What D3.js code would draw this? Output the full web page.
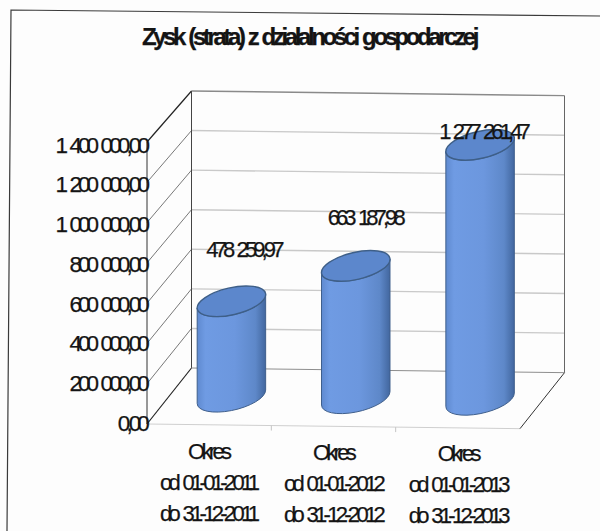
<!DOCTYPE html>
<html lang="pl">
<head>
<meta charset="utf-8">
<script src="https://cdn.jsdelivr.net/npm/d3@7"></script>
<style>
html, body { margin: 0; padding: 0; background: #fdfdfd; }
svg { display: block; }
text { font-family: "Liberation Sans", Arial, sans-serif; fill: #141414; stroke: #141414; stroke-width: 0.25px; }
</style>
</head>
<body>
<svg id="chart" width="600" height="531"></svg>
<script>
const chartTitle = "Zysk (strata) z działalności gospodarczej";
const periods = ["2011", "2012", "2013"];
const periodLines = [
  ["Okres", "od 01-01-2011", "do 31-12-2011"],
  ["Okres", "od 01-01-2012", "do 31-12-2012"],
  ["Okres", "od 01-01-2013", "do 31-12-2013"]
];
const profits = [478259.97, 663187.98, 1277261.47];
const axisTicks = [0, 200000, 400000, 600000, 800000, 1000000, 1200000, 1400000];

const svg = d3.select("#chart");
const plLocale = d3.formatLocale({ decimal: ",", thousands: " ", grouping: [3], currency: ["", " zł"] });
const fmt = plLocale.format(",.2f");

// Pseudo-3D box: the front plane, and the offset of the back wall from it.
const frontLeft = 147, frontRight = 520, frontBase = 424, frontTop = 142;
const depthX = 44.5, depthY = 56, backShrink = 5;
const tilt = 0.0125;

const xBand = d3.scaleBand().domain(periods).range([frontLeft, frontRight]);
const yFront = d3.scaleLinear().domain([0, 1400000]).range([frontBase, frontTop]);
const yBack = d3.scaleLinear().domain([0, 1400000]).range([frontBase - depthY, frontTop - depthY + backShrink]);

// Projects (plot x, value, depth 0..1) on to the page.
function project(x, v, d) {
  const px = x + depthX * d;
  const py = yFront(v) + (yBack(v) - yFront(v)) * d + (x - frontLeft) * tilt;
  return [px, py];
}
const segment = (a, b) => "M" + a.join(",") + "L" + b.join(",");

// Page frame
svg.append("path")
  .attr("d", "M7,531L11,10L600,16")
  .attr("fill", "none").attr("stroke", "#3a3a3a").attr("stroke-width", 1.2);

// Back wall gridlines
svg.append("g").selectAll("path").data(axisTicks.slice(1)).join("path")
  .attr("d", v => segment(project(frontLeft, v, 1), project(frontRight, v, 1)))
  .attr("fill", "none")
  .attr("stroke", v => v === 1400000 ? "#8a8a8a" : "#c9c9c9")
  .attr("stroke-width", 1.4);

// Side wall gridlines
svg.append("g").selectAll("path").data(axisTicks).join("path")
  .attr("d", v => segment(project(frontLeft, v, 0), project(frontLeft, v, 1)))
  .attr("fill", "none")
  .attr("stroke", v => (v === 0 || v === 1400000) ? "#222" : "#555")
  .attr("stroke-width", v => (v === 0 || v === 1400000) ? 1.2 : 0.8);

// Box edges: walls, floor
const edges = [
  [project(frontLeft, 0, 0), project(frontLeft, 1400000, 0), "#333"],
  [project(frontLeft, 0, 1), project(frontLeft, 1400000, 1), "#444"],
  [project(frontRight, 0, 1), project(frontRight, 1400000, 1), "#666"],
  [project(frontLeft, 0, 1), project(frontRight, 0, 1), "#8e8e8e"],
  [project(frontLeft, 0, 0), project(frontRight, 0, 0), "#cfcfcf"],
  [project(frontRight, 0, 0), project(frontRight, 0, 1), "#333"]
];
svg.append("g").selectAll("path").data(edges).join("path")
  .attr("d", d => segment(d[0], d[1]))
  .attr("fill", "none").attr("stroke", d => d[2]).attr("stroke-width", 1);

// Floor ticks between the categories
svg.append("g").selectAll("path").data(periods.slice(1)).join("path")
  .attr("d", p => {
    const a = project(xBand(p), 0, 0);
    return segment(a, [a[0], a[1] + 5]);
  })
  .attr("stroke", "#c4c4c4").attr("stroke-width", 1);

// Cylinders
const defs = svg.append("defs");
const grad = defs.append("linearGradient").attr("id", "body");
[[0, "#5f8ad0"], [0.12, "#6f9be3"], [0.55, "#6c97de"], [0.85, "#5e88c9"], [1, "#42679f"]]
  .forEach(s => grad.append("stop").attr("offset", s[0]).attr("stop-color", s[1]));

const rx = 35, ry = 13.5, rot = -13 * Math.PI / 180;
// Tangent points of the tilted ellipse with vertical lines
const halfW = Math.sqrt(rx * rx * Math.cos(rot) ** 2 + ry * ry * Math.sin(rot) ** 2);
const tanDy = ((rx * rx - ry * ry) * Math.sin(rot) * Math.cos(rot)) / halfW;

const bars = svg.append("g").selectAll("g")
  .data(periods.map((p, i) => ({ period: p, value: profits[i] })))
  .join("g");

const barBase = d => project(xBand(d.period) + xBand.bandwidth() / 2, 0, 0.5);
const barTop = d => project(xBand(d.period) + xBand.bandwidth() / 2, d.value, 0.5);
const rotDeg = rot * 180 / Math.PI;

bars.append("path")
  .attr("d", d => {
    const [bx, by] = barBase(d), [tx, ty] = barTop(d);
    return `M${tx - halfW},${ty - tanDy}L${bx - halfW},${by - tanDy}` +
      `A${rx},${ry} ${rotDeg} 0 0 ${bx + halfW},${by + tanDy}` +
      `L${tx + halfW},${ty + tanDy}` +
      `A${rx},${ry} ${rotDeg} 0 1 ${tx - halfW},${ty - tanDy}Z`;
  })
  .attr("fill", "url(#body)")
  .attr("stroke", "#3f5f8c").attr("stroke-width", 1);

bars.append("ellipse")
  .attr("rx", rx).attr("ry", ry)
  .attr("transform", d => {
    const [tx, ty] = barTop(d);
    return `translate(${tx},${ty}) rotate(${rotDeg})`;
  })
  .attr("fill", "#5c87cc")
  .attr("stroke", "#3e5f88").attr("stroke-width", 1.4);

// Vertical axis labels
const axis = d3.axisLeft(yFront.copy().range([frontBase - 1, frontTop + 3]))
  .tickValues(axisTicks).tickSize(0).tickPadding(0).tickFormat(fmt);
const axisG = svg.append("g").attr("transform", `translate(${frontLeft - 1},0)`).call(axis);
axisG.select(".domain").remove();
axisG.selectAll("text")
  .style("font-family", '"Liberation Sans", Arial, sans-serif')
  .style("font-size", "22.5px")
  .style("letter-spacing", "-3.9px")
  .style("word-spacing", "3px")
  .attr("fill", "#141414");

// Value labels, placed by hand around each cylinder top
const labelShift = [[12, -51], [9, -48], [3, -13]];
svg.append("g").selectAll("text").data(profits).join("text")
  .attr("x", (v, i) => barTop({ period: periods[i], value: v })[0] + labelShift[i][0])
  .attr("y", (v, i) => barTop({ period: periods[i], value: v })[1] + labelShift[i][1] + 7)
  .attr("text-anchor", "middle")
  .style("font-size", "22px")
  .style("letter-spacing", "-3.9px")
  .style("word-spacing", "3px")
  .text(fmt);

// Category labels
const catG = svg.append("g").selectAll("g").data(periods).join("g")
  .attr("transform", (p, i) => `translate(${xBand(p) + xBand.bandwidth() / 2 - 1 + i * 0.5},${459 + i})`);
catG.selectAll("text").data((p, i) => periodLines[i]).join("text")
  .attr("y", (s, j) => j * 31)
  .attr("text-anchor", "middle")
  .style("font-size", "22px")
  .style("letter-spacing", "-3.7px")
  .style("word-spacing", "3px")
  .text(s => s);

// Title
svg.append("text")
  .attr("x", 309).attr("y", 45)
  .attr("text-anchor", "middle")
  .style("font-size", "24px")
  .style("font-weight", "700")
  .style("letter-spacing", "-3.4px")
  .style("word-spacing", "2px")
  .text(chartTitle);
</script>
</body>
</html>
